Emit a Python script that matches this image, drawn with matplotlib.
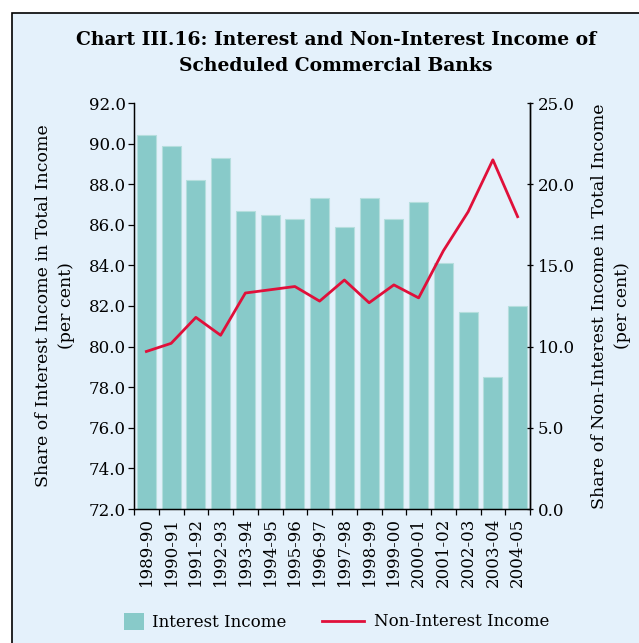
import matplotlib
matplotlib.use("Agg")
import matplotlib.pyplot as plt
from matplotlib.patches import Rectangle, Patch
from matplotlib.lines import Line2D
import numpy as np

years = ["1989-90", "1990-91", "1991-92", "1992-93", "1993-94", "1994-95",
         "1995-96", "1996-97", "1997-98", "1998-99", "1999-00", "2000-01",
         "2001-02", "2002-03", "2003-04", "2004-05"]
interest_income = [90.4, 89.9, 88.2, 89.3, 86.7, 86.5, 86.3, 87.3,
                   85.9, 87.3, 86.3, 87.1, 84.1, 81.7, 78.5, 82.0]
non_interest_income = [9.7, 10.2, 11.8, 10.7, 13.3, 13.5, 13.7, 12.8,
                       14.1, 12.7, 13.8, 13.0, 15.9, 18.3, 21.5, 18.0]
left_ticks = [72.0, 74.0, 76.0, 78.0, 80.0, 82.0, 84.0, 86.0, 88.0, 90.0, 92.0]
right_ticks = [0.0, 5.0, 10.0, 15.0, 20.0, 25.0]

BG = "#e4f1fb"
BAR = "#88cac9"
LINE = "#e0103a"
FS = 12
LFS = 12.5

plt.rcParams["font.family"] = ["DejaVu Serif"]

W, H = 639, 643
fig = plt.figure(figsize=(W / 100, H / 100), dpi=100)
fig.patch.set_facecolor("white")
frame = Rectangle((12 / W, -0.01), 1.0, 1 - 13 / H + 0.01,
                  transform=fig.transFigure, facecolor=BG,
                  edgecolor="black", linewidth=1.2, zorder=-5)
fig.add_artist(frame)

ax = fig.add_axes([134 / W, 1 - 509 / H, (530 - 134) / W, (509 - 103) / H])
ax.set_facecolor(BG)
x = np.arange(len(years))
ax.bar(x, interest_income, width=0.76, color=BAR, edgecolor="#b5dedd",
       linewidth=0.8, zorder=2)
ax.set_xlim(-0.5, len(years) - 0.5)
ax.set_ylim(72, 92)
ax.set_yticks(left_ticks)
ax.set_yticklabels([f"{v:.1f}" for v in left_ticks], fontsize=FS)
ax.set_xticks(x)
ax.set_xticklabels(years, rotation=90, fontsize=FS)
ax.tick_params(axis="x", length=0, pad=6)
ax.set_xticks(np.arange(-0.5, len(years)), minor=True)
ax.tick_params(axis="x", which="minor", length=4, direction="out", width=0.9)
ax.tick_params(axis="y", length=4, direction="out", width=0.9, pad=2)
ax.spines["top"].set_visible(False)
for s in ("left", "bottom", "right"):
    ax.spines[s].set_linewidth(1.0)
ax.set_ylabel("Share of Interest Income in Total Income\n(per cent)",
              fontsize=LFS, labelpad=10, linespacing=1.45)

ax2 = ax.twinx()
ax2.plot(x, non_interest_income, color=LINE, linewidth=2.0, zorder=3)
ax2.set_ylim(0, 25)
ax2.set_yticks(right_ticks)
ax2.set_yticklabels([f"{v:.1f}" for v in right_ticks], fontsize=FS)
ax2.tick_params(axis="y", length=5, direction="inout", width=0.9, pad=3)
ax2.spines["top"].set_visible(False)
ax2.spines["right"].set_linewidth(1.0)
ax2.set_ylabel("Share of Non-Interest Income in Total Income\n(per cent)",
               fontsize=LFS, labelpad=12, linespacing=1.45)

fig.text(336 / W, 1 - 53 / H,
         "Chart III.16: Interest and Non-Interest Income of\nScheduled Commercial Banks",
         ha="center", va="center", fontsize=13.5, fontweight="bold",
         linespacing=1.6)

leg1 = fig.legend([Patch(facecolor=BAR, edgecolor="none")], ["Interest Income"],
                  loc="center left", bbox_to_anchor=(109 / W, 1 - 622 / H),
                  frameon=False, fontsize=FS, handlelength=1.2,
                  handleheight=1.2, handletextpad=0.5)
leg2 = fig.legend([Line2D([0], [0], color=LINE, linewidth=2.0)],
                  ["Non-Interest Income"],
                  loc="center left", bbox_to_anchor=(307 / W, 1 - 622 / H),
                  frameon=False, fontsize=FS, handlelength=2.5,
                  handletextpad=0.6)

fig.savefig("out.png", dpi=100, facecolor=fig.get_facecolor())
